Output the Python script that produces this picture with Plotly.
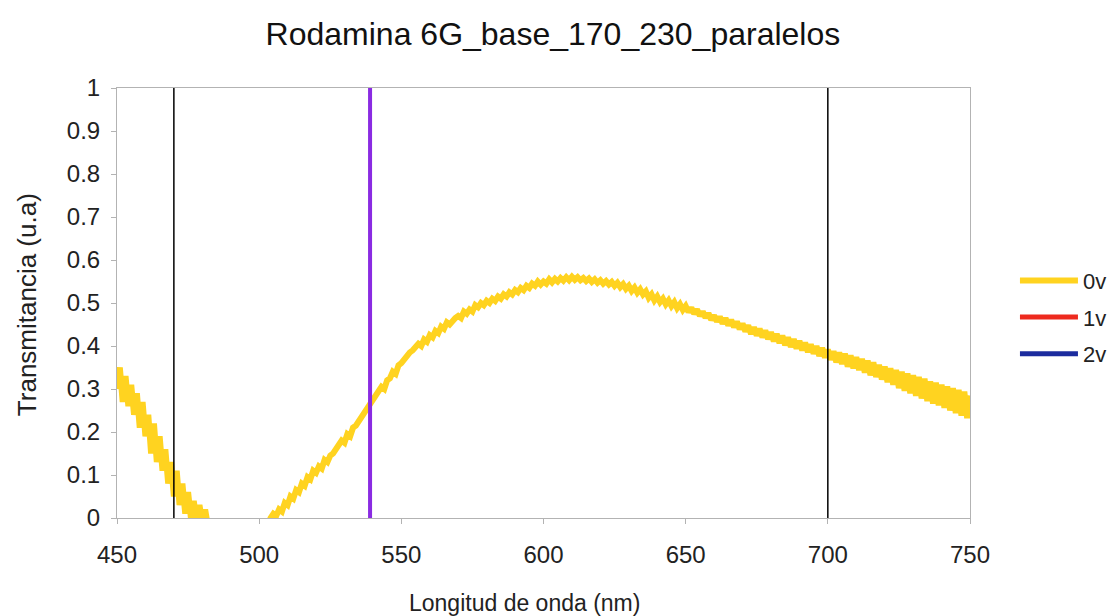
import plotly.graph_objects as go

# Wavelength axis (nm), one sample per nanometre
wavelength = list(range(450, 751))

# Measured transmittance at 0 V
transmitancia_0v = [
    0.30, 0.35, 0.27, 0.33, 0.26, 0.31, 0.24, 0.29, 0.21, 0.27,
    0.19, 0.24, 0.15, 0.22, 0.13, 0.19, 0.11, 0.16, 0.08, 0.13,
    0.05, 0.11, 0.03, 0.08, 0.01, 0.06, 0.00, 0.04, -0.01, 0.03,
    -0.01, 0.02, -0.02,
    -0.04, -0.06, -0.05, -0.07, -0.06, -0.08, -0.07, -0.09, -0.08, -0.09,
    -0.08, -0.09, -0.07, -0.08, -0.06, -0.07, -0.05, -0.06, -0.04, -0.03,
    -0.02, 0.00, 0.01, 0.005, 0.02, 0.015, 0.035, 0.03,
    0.05, 0.045, 0.065, 0.06, 0.08, 0.075, 0.095, 0.09, 0.11, 0.105,
    0.12, 0.115, 0.135, 0.13, 0.145, 0.15, 0.16, 0.165, 0.18, 0.175,
    0.195, 0.19, 0.21, 0.215, 0.225, 0.23, 0.245, 0.25, 0.265, 0.27,
    0.285, 0.29, 0.305, 0.30, 0.32, 0.325, 0.34, 0.335, 0.355, 0.36,
    0.37, 0.375, 0.385, 0.39, 0.40, 0.405, 0.40, 0.415, 0.41, 0.425,
    0.42, 0.435, 0.43, 0.445, 0.44, 0.455, 0.45, 0.46, 0.465, 0.47,
    0.465, 0.48, 0.475, 0.485, 0.48, 0.495, 0.49, 0.50, 0.495, 0.505,
    0.50, 0.51, 0.505, 0.515, 0.51, 0.52, 0.515, 0.525, 0.52, 0.53,
    0.525, 0.535, 0.53, 0.54, 0.535, 0.545, 0.54, 0.55, 0.543, 0.55,
    0.545, 0.555, 0.548, 0.556, 0.55, 0.558, 0.552, 0.56, 0.553, 0.561,
    0.554, 0.56, 0.553, 0.558, 0.551, 0.557, 0.549, 0.555, 0.547, 0.553,
    0.545, 0.551, 0.543, 0.549, 0.54, 0.547, 0.537, 0.544, 0.533, 0.54,
    0.528, 0.536, 0.524, 0.532, 0.52, 0.527, 0.512, 0.52, 0.506, 0.515,
    0.502, 0.51, 0.497, 0.506, 0.493, 0.502, 0.488, 0.497, 0.484, 0.493,
    0.479, 0.489, 0.475, 0.485, 0.47, 0.48, 0.466, 0.476, 0.461, 0.471,
    0.457, 0.468, 0.452, 0.465, 0.448, 0.461, 0.444, 0.457, 0.439, 0.452,
    0.434, 0.448, 0.428, 0.444, 0.424, 0.44, 0.42, 0.436, 0.416, 0.432,
    0.411, 0.428, 0.407, 0.424, 0.402, 0.42, 0.398, 0.416, 0.394, 0.412,
    0.39, 0.408, 0.386, 0.404, 0.382, 0.40, 0.377, 0.396, 0.373, 0.392,
    0.368, 0.388, 0.362, 0.385, 0.358, 0.382, 0.352, 0.378, 0.348, 0.374,
    0.344, 0.37, 0.338, 0.366, 0.332, 0.362, 0.328, 0.356, 0.322, 0.352,
    0.316, 0.348, 0.31, 0.344, 0.302, 0.34, 0.296, 0.336, 0.29, 0.332,
    0.284, 0.328, 0.278, 0.324, 0.272, 0.318, 0.266, 0.315, 0.262, 0.31,
    0.256, 0.306, 0.25, 0.302, 0.244, 0.298, 0.238, 0.294, 0.232, 0.285,
]

# The 1 V and 2 V series only appear in the legend
transmitancia_1v = [None]
transmitancia_2v = [None]

# Reference wavelengths marked with vertical lines (nm)
black_lines = [470, 700]
laser_line = 539

x_ticks = [450, 500, 550, 600, 650, 700, 750]
y_ticks = [0, 0.1, 0.2, 0.3, 0.4, 0.5, 0.6, 0.7, 0.8, 0.9, 1]
y_tick_text = ["0", "0.1", "0.2", "0.3", "0.4", "0.5", "0.6", "0.7", "0.8", "0.9", "1"]

assert len(wavelength) == len(transmitancia_0v)

FONT = "Liberation Sans"
AXIS_GREY = "#b3b3b3"
TEXT = "#222222"

fig = go.Figure()
fig.add_trace(go.Scatter(
    x=wavelength, y=transmitancia_0v, mode="lines", name="0v",
    line=dict(color="#ffd320", width=6), legendgroup="a",
))
fig.add_trace(go.Scatter(
    x=[None], y=transmitancia_1v, mode="lines", name="1v",
    line=dict(color="#ee2a1e", width=5), legendgroup="b",
))
fig.add_trace(go.Scatter(
    x=[None], y=transmitancia_2v, mode="lines", name="2v",
    line=dict(color="#1c2c9e", width=5), legendgroup="c",
))

for wl in black_lines:
    fig.add_shape(type="line", x0=wl, x1=wl, y0=0, y1=1, xref="x", yref="y",
                  line=dict(color="black", width=1.5), layer="above")
fig.add_shape(type="line", x0=laser_line, x1=laser_line, y0=0, y1=1,
              xref="x", yref="y", line=dict(color="#8a2be2", width=4),
              layer="above")

# Axis titles as annotations so they can sit exactly where wanted
fig.add_annotation(text="Longitud de onda (nm)", xref="paper", yref="paper",
                   x=0.478, y=-0.198, xanchor="center", yanchor="middle",
                   showarrow=False, font=dict(size=23, color=TEXT))
fig.add_annotation(text="Transmitancia (u.a)", xref="paper", yref="paper",
                   x=-0.1055, y=0.495, xanchor="center", yanchor="middle",
                   textangle=-90, showarrow=False, font=dict(size=26, color=TEXT))

fig.update_layout(
    width=1117, height=616,
    margin=dict(l=117, r=147, t=88, b=98, autoexpand=False),
    paper_bgcolor="white", plot_bgcolor="white",
    font=dict(family=FONT, color=TEXT, size=23),
    title=dict(text="Rodamina 6G_base_170_230_paralelos", x=0.495, xanchor="center",
               y=0.945, yanchor="middle", font=dict(size=32, color="#111111")),
    legend=dict(x=1.0527, xanchor="left", y=0.467, yanchor="middle",
                traceorder="grouped", tracegroupgap=5, itemwidth=58,
                font=dict(size=22), bgcolor="rgba(0,0,0,0)"),
    showlegend=True,
)
fig.update_xaxes(
    range=[450, 750], tickvals=x_ticks, showgrid=False, zeroline=False,
    showline=True, linecolor=AXIS_GREY, linewidth=1, mirror=True,
    ticks="outside", ticklen=5, tickcolor=AXIS_GREY, ticklabelstandoff=10,
    tickfont=dict(size=24),
)
fig.update_yaxes(
    range=[0, 1], tickvals=y_ticks, ticktext=y_tick_text, showgrid=False,
    zeroline=False, showline=True, linecolor=AXIS_GREY, linewidth=1, mirror=True,
    ticks="outside", ticklen=5, tickcolor=AXIS_GREY, ticklabelstandoff=6,
    tickfont=dict(size=24),
)

fig.write_html("out.html")
